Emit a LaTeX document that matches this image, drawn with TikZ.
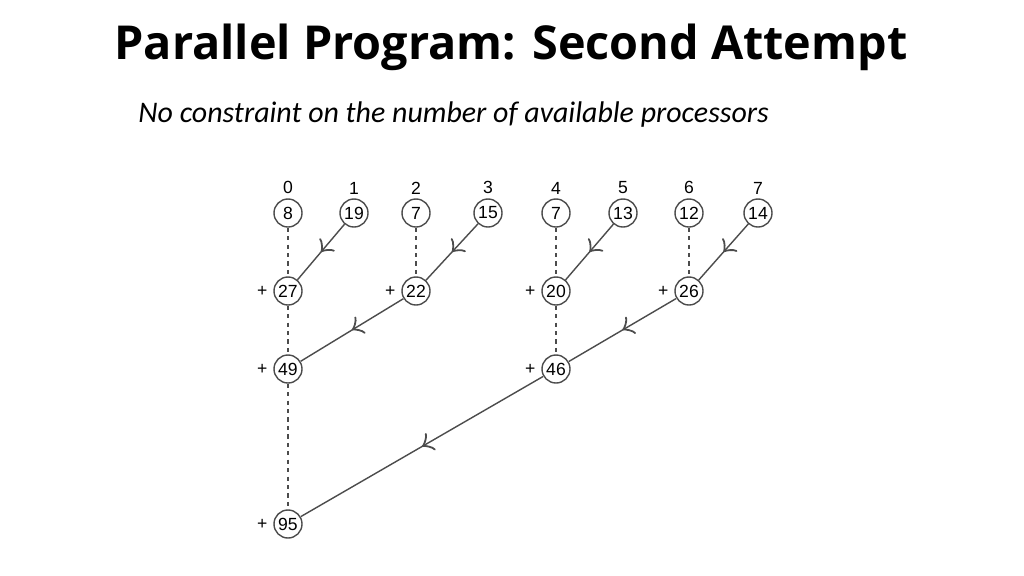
\documentclass[tikz,border=0pt]{standalone}
\usepackage{fontspec}
\setmainfont{Liberation Sans}
\newfontfamily\titlefont{Open Sans}
\newfontfamily\subfont{Carlito}
\usetikzlibrary{decorations.markings}
\usetikzlibrary{positioning}
\tikzset{
num/.style={circle,draw=black!70,thin,minimum size=0.28cm,inner sep=0pt,font=\fontsize{5}{6}\selectfont},
idx/.style={font=\fontsize{5}{6}\selectfont,inner sep=1pt},
plus/.style={font=\fontsize{5}{6}\selectfont,left=0pt,inner sep=1.5pt},
keep/.style={draw=black!70,thin,dashed,dash pattern=on 1.2pt off 1.2pt},
send/.style={draw=black!70,thin,postaction={decorate},
decoration={markings,mark=at position 0.5 with {\arrow[scale=1.6]{to}}}}
}
\begin{document}
\begin{tikzpicture}[x=0.01cm,y=-0.01cm]
\useasboundingbox (0,0) rectangle (1024,575);
\node[font=\titlefont\bfseries\fontsize{13.3}{15}\selectfont] (title) at (511,47) {Parallel Program: Second Attempt};
\node[font=\subfont\itshape\fontsize{8.5}{10}\selectfont,anchor=west] (sub) at (126,115) {No constraint on the number of available processors};

\node[num] (a0) at (288,213) {8};
\node[num] (a1) at (354,213) {19};
\node[num] (a2) at (416,213) {7};
\node[num] (a3) at (488,213) {15};
\node[num] (a4) at (556,213) {7};
\node[num] (a5) at (623,213) {13};
\node[num] (a6) at (689,213) {12};
\node[num] (a7) at (758,213) {14};
\foreach \i in {0,...,7}
  \node[idx,above=0pt of a\i] (l\i) {\i};

\node[num] (b0) at (288,291) {27};
\node[num] (b2) at (416,291) {22};
\node[num] (b4) at (556,291) {20};
\node[num] (b6) at (689,291) {26};
\node[num] (c0) at (288,369) {49};
\node[num] (c4) at (556,369) {46};
\node[num] (d0) at (288,524) {95};
\foreach \n in {b0,b2,b4,b6,c0,c4,d0}
  \node[plus] at (\n.west) {+};

\draw[keep] (a0) -- (b0);
\draw[keep] (a2) -- (b2);
\draw[keep] (a4) -- (b4);
\draw[keep] (a6) -- (b6);
\draw[keep] (b0) -- (c0);
\draw[keep] (b4) -- (c4);
\draw[keep] (c0) -- (d0);
\draw[send] (a1) -- (b0);
\draw[send] (a3) -- (b2);
\draw[send] (a5) -- (b4);
\draw[send] (a7) -- (b6);
\draw[send] (b2) -- (c0);
\draw[send] (b6) -- (c4);
\draw[send] (c4) -- (d0);
\end{tikzpicture}
\end{document}
